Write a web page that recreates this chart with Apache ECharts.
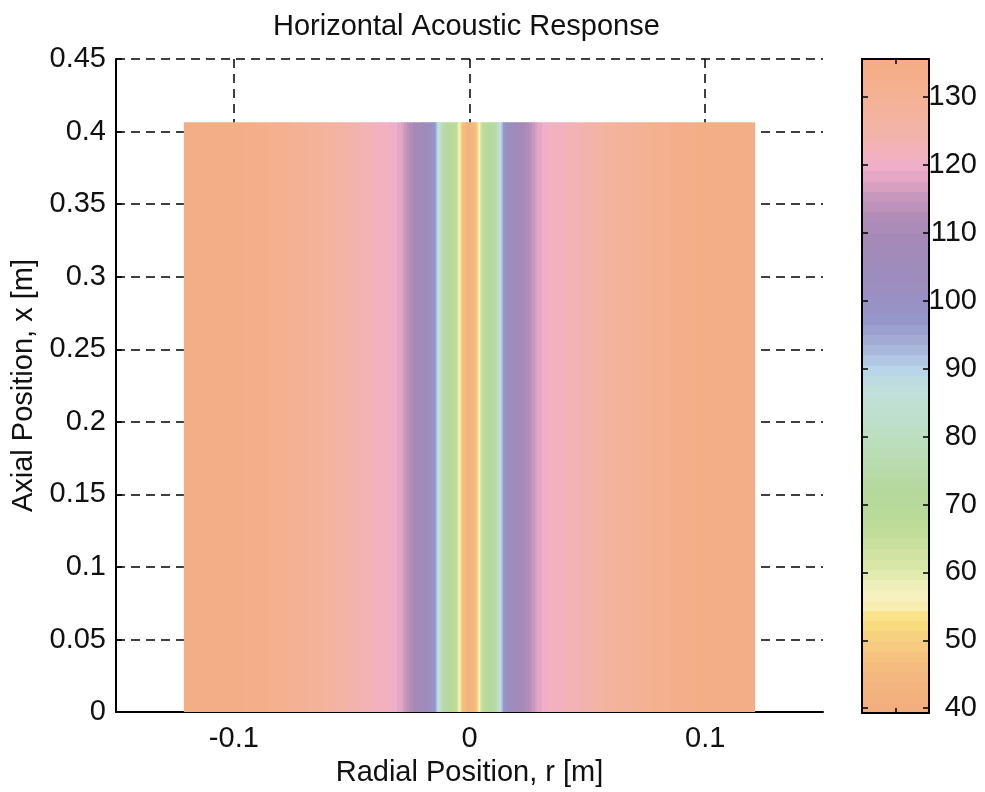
<!DOCTYPE html>
<html>
<head>
<meta charset="utf-8">
<title>Horizontal Acoustic Response</title>
<script src="https://cdn.jsdelivr.net/npm/echarts@6/dist/echarts.min.js"></script>
<style>
html, body { margin: 0; padding: 0; background: #fff; }
#main { width: 985px; height: 792px; }
</style>
</head>
<body>
<div id="main"></div>
<script>
var radialPos = [-0.1210, -0.0934, -0.0764, -0.0637, -0.0531, -0.0446, -0.0382, -0.0331, -0.0289, -0.0263,
                 -0.0234, -0.0195, -0.0157, -0.0144, -0.0136, -0.0127, -0.0115, -0.0085, -0.0055, -0.0047,
                 -0.0038, -0.0030, -0.0017, 0,
                 0.0017, 0.0030, 0.0038, 0.0047, 0.0055, 0.0085, 0.0115, 0.0127, 0.0136, 0.0144,
                 0.0157, 0.0195, 0.0234, 0.0263, 0.0289, 0.0331, 0.0382, 0.0446, 0.0531, 0.0637,
                 0.0764, 0.0934, 0.1210];
// response level at those positions
var levels = [135, 134, 131, 128.5, 125.5, 123, 121.5, 120.5, 118, 114,
              110, 106, 101, 96, 90, 84, 76, 71, 66, 60,
              54, 48, 44, 42,
              44, 48, 54, 60, 66, 71, 76, 84, 90, 96,
              101, 106, 110, 114, 118, 120.5, 121.5, 123, 125.5, 128.5,
              131, 134, 135];
// axial extent of the field [m]
var axialTop = 0.4064;

// colour scale
var cbMin = 39.3, cbMax = 135.6, nBands = 64;
var cmapValues = [39.3, 45, 48, 51, 53, 55, 57, 59, 62, 66, 72, 80, 87, 90, 93, 97, 103, 109, 112, 115, 117, 120, 122, 126, 131, 135.6];
var cmapColors = ['#F3AD80', '#F5B880', '#F6C480', '#F6D480', '#F9E07C', '#F9EEB0', '#F6F2C4', '#E6EDB2', '#D2E5A4', '#BFDC98',
                  '#B4D89C', '#BCDFC0', '#C2E0DC', '#B8D4EA', '#A8B4DA', '#9696C8', '#9C8DBE', '#A48AB8', '#B08CB6', '#C496BC',
                  '#DAA0C2', '#F0B0C8', '#F2B2BA', '#F4B4A4', '#F4B092', '#F4AE82'];

function smoothColor(v) {
    if (v <= cmapValues[0]) return cmapColors[0];
    for (var i = 1; i < cmapValues.length; i++) {
        if (v <= cmapValues[i]) {
            var t = (v - cmapValues[i - 1]) / (cmapValues[i] - cmapValues[i - 1]);
            return echarts.color.lerp(t, [cmapColors[i - 1], cmapColors[i]]);
        }
    }
    return cmapColors[cmapColors.length - 1];
}
// banded colormap like the original figure
var bandStep = (cbMax - cbMin) / nBands;
function cmap(v) {
    var j = Math.floor((v - cbMin) / bandStep);
    j = Math.max(0, Math.min(nBands - 1, j));
    return smoothColor(cbMin + (j + 0.5) * bandStep);
}

var segs = [];
for (var i = 0; i < radialPos.length - 1; i++) {
    segs.push([radialPos[i], radialPos[i + 1], levels[i], levels[i + 1]]);
}

var FONT = 'Liberation Sans, Arial, sans-serif';
var TXT = '#111';
var dash = { color: '#000', width: 1.5, type: [9, 6] };

function renderCells(params, api) {
    var r0 = api.value(0), r1 = api.value(1), v0 = api.value(2), v1 = api.value(3);
    var pa = api.coord([r0, axialTop]);
    var pb = api.coord([r1, 0]);
    var stops = [];
    var n = 24;
    for (var k = 0; k <= n; k++) {
        var t = k / n;
        stops.push({ offset: t, color: cmap(v0 + (v1 - v0) * t) });
    }
    return {
        type: 'rect',
        shape: { x: pa[0] - 0.5, y: pa[1], width: pb[0] - pa[0] + 1, height: pb[1] - pa[1] },
        style: { fill: new echarts.graphic.LinearGradient(0, 0, 1, 0, stops) }
    };
}

function renderBar(params, api) {
    var pa = api.coord([0, cbMax]);
    var pb = api.coord([2, cbMin]);
    var stops = [];
    for (var j = nBands - 1; j >= 0; j--) {
        var c = smoothColor(cbMin + (j + 0.5) * bandStep);
        var o0 = (nBands - 1 - j) / nBands, o1 = (nBands - j) / nBands;
        stops.push({ offset: o0, color: c });
        stops.push({ offset: o1, color: c });
    }
    return {
        type: 'rect',
        shape: { x: pa[0], y: pa[1], width: pb[0] - pa[0], height: pb[1] - pa[1] },
        style: { fill: new echarts.graphic.LinearGradient(0, 0, 0, 1, stops) }
    };
}

var chart = echarts.init(document.getElementById('main'));
chart.setOption({
    backgroundColor: '#fff',
    animation: false,
    textStyle: { fontFamily: FONT },
    title: {
        text: 'Horizontal Acoustic Response',
        left: 273, top: 12, padding: 0,
        textStyle: { fontFamily: FONT, fontSize: 29, fontWeight: 'normal', color: TXT }
    },
    grid: [
        { left: 116, top: 59, width: 707, height: 654 },
        { left: 862, top: 59, width: 67, height: 654 }
    ],
    xAxis: [
        {
            gridIndex: 0, type: 'value', min: -0.15, max: 0.15, splitNumber: 3,
            name: 'Radial Position, r [m]', nameLocation: 'middle', nameGap: 42,
            nameTextStyle: { fontFamily: FONT, fontSize: 29, color: TXT },
            axisLine: { onZero: false, lineStyle: { color: '#000', width: 2 } },
            axisTick: { inside: true, length: 6, lineStyle: { color: '#000', width: 1.5 } },
            axisLabel: { fontFamily: FONT, fontSize: 29, color: TXT, margin: 12, showMinLabel: false, showMaxLabel: false },
            splitLine: { show: true, showMinLine: false, showMaxLine: false, lineStyle: dash }
        },
        {
            gridIndex: 1, type: 'value', min: 0, max: 2, interval: 1, position: 'bottom', z: 5,
            axisLine: { onZero: false, lineStyle: { color: '#000', width: 2 } },
            axisTick: { inside: true, length: 5, lineStyle: { color: '#000', width: 1.5 } },
            axisLabel: { show: false }, splitLine: { show: false }
        },
        {
            gridIndex: 1, type: 'value', min: 0, max: 2, interval: 1, position: 'top', z: 5,
            axisLine: { onZero: false, lineStyle: { color: '#000', width: 2 } },
            axisTick: { inside: true, length: 5, lineStyle: { color: '#000', width: 1.5 } },
            axisLabel: { show: false }, splitLine: { show: false }
        }
    ],
    yAxis: [
        {
            gridIndex: 0, type: 'value', min: 0, max: 0.45, interval: 0.05,
            name: 'Axial Position, x [m]', nameLocation: 'middle', nameGap: 70, nameRotate: 90,
            nameTextStyle: { fontFamily: FONT, fontSize: 29, color: TXT },
            axisLine: { onZero: false, lineStyle: { color: '#000', width: 2 } },
            axisTick: { inside: true, length: 6, lineStyle: { color: '#000', width: 1.5 } },
            axisLabel: { fontFamily: FONT, fontSize: 29, color: TXT, margin: 10 },
            splitLine: { show: true, showMinLine: false, lineStyle: dash }
        },
        {
            gridIndex: 1, type: 'value', min: cbMin, max: cbMax, splitNumber: 10, position: 'right', z: 5,
            axisLine: { onZero: false, lineStyle: { color: '#000', width: 2 } },
            axisTick: { inside: true, length: 6, lineStyle: { color: '#000', width: 1.5 } },
            axisLabel: { fontFamily: FONT, fontSize: 29, color: TXT, align: 'right', margin: 48,
                         showMinLabel: false, showMaxLabel: false },
            splitLine: { show: false }
        },
        {
            gridIndex: 1, type: 'value', min: cbMin, max: cbMax, splitNumber: 10, position: 'left', z: 5,
            axisLine: { onZero: false, lineStyle: { color: '#000', width: 2 } },
            axisTick: { inside: true, length: 6, lineStyle: { color: '#000', width: 1.5 } },
            axisLabel: { show: false }, splitLine: { show: false }
        }
    ],
    series: [
        {
            type: 'custom', name: 'response', xAxisIndex: 0, yAxisIndex: 0,
            renderItem: renderCells, data: segs, silent: true
        },
        {
            type: 'custom', name: 'colorbar', xAxisIndex: 1, yAxisIndex: 1,
            renderItem: renderBar, data: [[cbMin, cbMax]], silent: true
        }
    ]
});
</script>
</body>
</html>
